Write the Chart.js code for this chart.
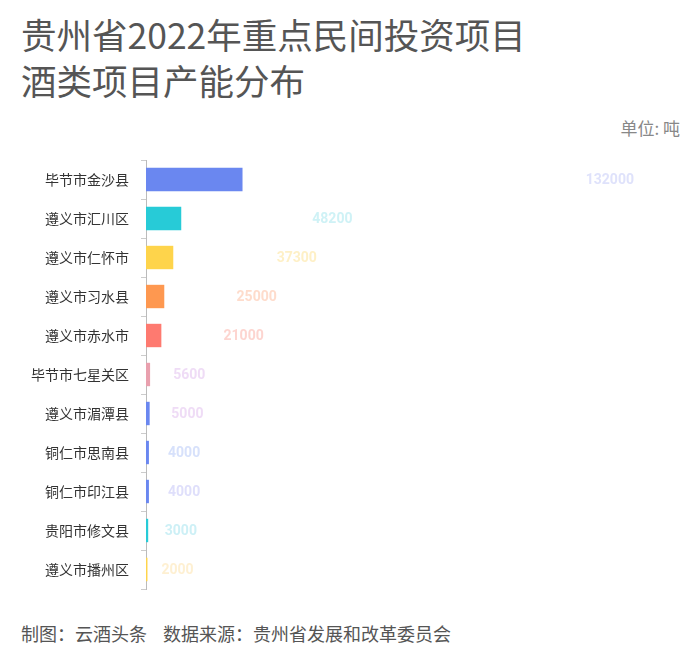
<!DOCTYPE html>
<html>
<head>
<meta charset="utf-8">
<script src="https://cdn.jsdelivr.net/npm/chart.js@4/dist/chart.umd.min.js"></script>
<style>
  html, body { margin: 0; padding: 0; background: #fff; }
  body { width: 700px; height: 660px; position: relative; overflow: hidden; font-family: "Noto Sans CJK SC", "Noto Sans", sans-serif; }
  #title { position: absolute; left: 21px; top: 11px; font-size: 35.5px; line-height: 46px; color: #555; white-space: nowrap; }
  #unit { position: absolute; right: 20px; top: 115px; font-size: 17px; color: #888; }
  #wrap { position: absolute; left: 0; top: 150px; width: 700px; height: 450px; }
  .foot { position: absolute; top: 620px; font-size: 18px; color: #555; white-space: nowrap; }
</style>
</head>
<body>
<div id="title">贵州省2022年重点民间投资项目<br>酒类项目产能分布</div>
<div id="unit">单位: 吨</div>
<div id="wrap"><canvas id="c"></canvas></div>
<div class="foot" style="left:21px">制图：云酒头条</div>
<div class="foot" style="left:163px">数据来源：贵州省发展和改革委员会</div>
<script>
const categories = ["毕节市金沙县", "遵义市汇川区", "遵义市仁怀市", "遵义市习水县", "遵义市赤水市", "毕节市七星关区", "遵义市湄潭县", "铜仁市思南县", "铜仁市印江县", "贵阳市修文县", "遵义市播州区"];
const capacities = [132000, 48200, 37300, 25000, 21000, 5600, 5000, 4000, 4000, 3000, 2000];
const barColors = ["#6a87f0", "#27cbd7", "#fed44b", "#fe9850", "#fe7a70", "#e9a0ae", "#6a87f0", "#6a87f0", "#6a87f0", "#27cbd7", "#fed44b"];
const labelColors = ["#dfe2fb", "#cff2f6", "#fef0c6", "#fedccc", "#fdd5d0", "#efdcf6", "#efdcf6", "#d7e1fb", "#dfdffb", "#cdf0f6", "#fef0d2"];

const valueLabels = {
  id: 'valueLabels',
  afterDatasetsDraw(chart) {
    const ctx = chart.ctx;
    const meta = chart.getDatasetMeta(0);
    const x2 = chart.scales.x2;
    ctx.save();
    ctx.font = 'bold 14px Roboto, "DejaVu Sans", sans-serif';
    ctx.textAlign = 'left';
    ctx.textBaseline = 'middle';
    meta.data.forEach((bar, i) => {
      ctx.fillStyle = labelColors[i];
      ctx.fillText(String(capacities[i]), x2.getPixelForValue(capacities[i]) + 9, bar.y + 1);
    });
    ctx.restore();
  }
};

new Chart(document.getElementById('c'), {
  type: 'bar',
  data: {
    labels: categories,
    datasets: [{
      data: capacities,
      backgroundColor: barColors,
      borderWidth: 0,
      barPercentage: 0.6,
      categoryPercentage: 1
    }]
  },
  options: {
    indexAxis: 'y',
    responsive: true,
    maintainAspectRatio: false,
    animation: false,
    layout: { padding: { top: 10, bottom: 11, right: 10, left: 0 } },
    plugins: { legend: { display: false }, tooltip: { enabled: false } },
    scales: {
      x: { type: 'linear', display: false, min: 0, max: 744000 },
      x2: { type: 'linear', axis: 'x', position: 'bottom', display: false, min: 0, max: 166700 },
      y: {
        afterFit(scale) { scale.width = 146; scale.paddingTop = 0; scale.paddingBottom = 0; },
        grid: { drawOnChartArea: false, drawTicks: true, tickLength: 5, color: '#cccccc' },
        border: { display: true, color: '#bbbbbb', width: 1 },
        ticks: { padding: 12, color: '#333', font: { family: '"Noto Sans CJK SC", sans-serif', size: 14 } }
      }
    }
  },
  plugins: [valueLabels]
});
</script>
</body>
</html>
